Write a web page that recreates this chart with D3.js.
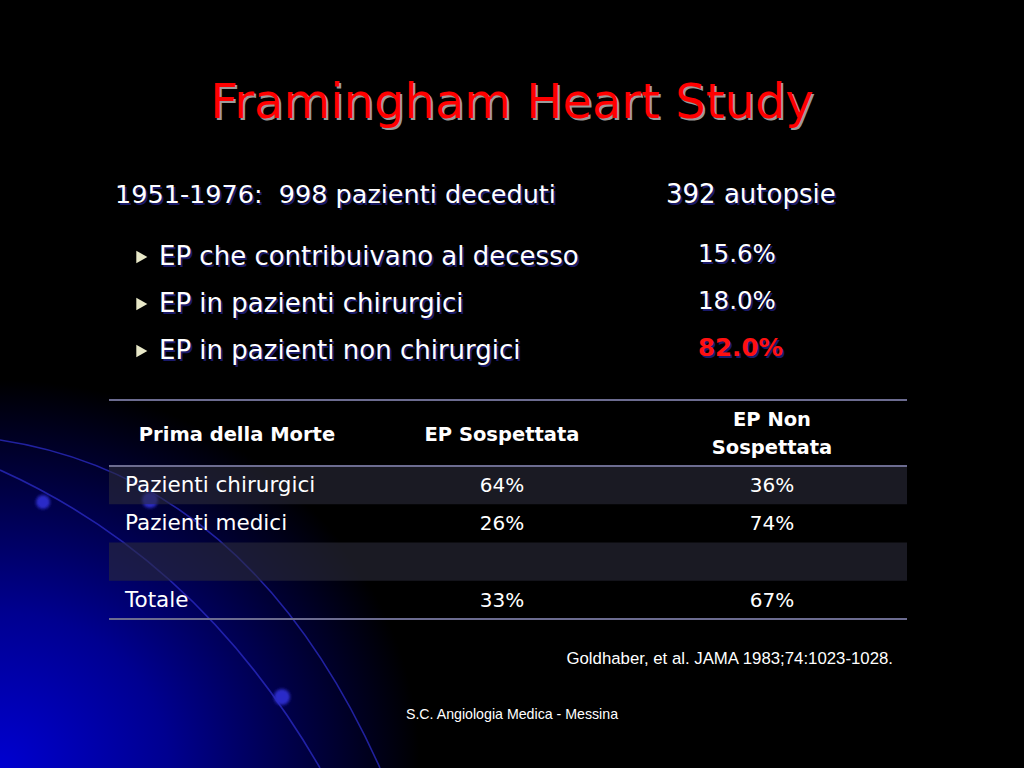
<!DOCTYPE html>
<html>
<head>
<meta charset="utf-8">
<script src="https://cdn.jsdelivr.net/npm/d3@7"></script>
<style>
  html, body { margin: 0; padding: 0; background: #000; }
  svg { display: block; }
  text { white-space: pre; }
</style>
</head>
<body>
<svg width="1024" height="768"></svg>
<script>
// slide content
const title = 'Framingham Heart Study';
const introLeft = '1951-1976:  998 pazienti deceduti';
const introRight = '392 autopsie';
const bullets = ['EP che contribuivano al decesso', 'EP in pazienti chirurgici', 'EP in pazienti non chirurgici'];
const bulletValues = ['15.6%', '18.0%', '82.0%'];
const highlight = [false, false, true];

const headers = [['Prima della Morte'], ['EP Sospettata'], ['EP Non', 'Sospettata']];
const rowLabels = ['Pazienti chirurgici', 'Pazienti medici', '', 'Totale'];
const suspected = ['64%', '26%', '', '33%'];
const notSuspected = ['36%', '74%', '', '67%'];

const citation = 'Goldhaber, et al. JAMA 1983;74:1023-1028.';
const footer = 'S.C. Angiologia Medica - Messina';

(function (d3) {
    const svg = d3.select('svg');
    const width = +svg.attr('width');
    const height = +svg.attr('height');
    const font = '"DejaVu Sans", sans-serif';

    // background
    const defs = svg.append('defs');
    const glow = defs.append('radialGradient')
        .attr('id', 'glow')
        .attr('cx', 0).attr('cy', 1).attr('r', 1)
        .attr('gradientUnits', 'objectBoundingBox');
    glow.append('stop').attr('offset', '0%').attr('stop-color', '#0000d0');
    glow.append('stop').attr('offset', '40%').attr('stop-color', '#000090');
    glow.append('stop').attr('offset', '100%').attr('stop-color', '#000000');

    const blur = defs.append('filter').attr('id', 'soft');
    blur.append('feGaussianBlur').attr('stdDeviation', 1.5);

    svg.append('rect').attr('width', width).attr('height', height).attr('fill', '#000');
    svg.append('rect')
        .attr('x', 0).attr('y', 380)
        .attr('width', 420).attr('height', 388)
        .attr('fill', 'url(#glow)');

    const arcs = svg.append('g')
        .attr('fill', 'none').attr('stroke', '#2c2cc8')
        .attr('stroke-width', 1.6).attr('opacity', 0.75);
    arcs.append('path').attr('d', 'M0,440 Q250,478 380,768');
    arcs.append('path').attr('d', 'M0,470 Q200,560 320,768');
    const dots = svg.append('g').attr('fill', '#2a2ac8').attr('filter', 'url(#soft)');
    dots.append('circle').attr('cx', 43).attr('cy', 502).attr('r', 7);
    dots.append('circle').attr('cx', 150).attr('cy', 500).attr('r', 8);
    dots.append('circle').attr('cx', 282).attr('cy', 697).attr('r', 8);

    // helper: text with drop shadow
    function shadowText(g, x, y, txt, opts) {
        const o = Object.assign({ size: 24, fill: '#fff', shadow: '#1a1a6a', anchor: 'start', weight: 'normal', dx: 2, dy: 2 }, opts);
        g.append('text')
            .attr('x', x + o.dx).attr('y', y + o.dy)
            .attr('text-anchor', o.anchor)
            .attr('font-family', font).attr('font-size', o.size).attr('font-weight', o.weight)
            .attr('fill', o.shadow)
            .text(txt);
        g.append('text')
            .attr('x', x).attr('y', y)
            .attr('text-anchor', o.anchor)
            .attr('font-family', font).attr('font-size', o.size).attr('font-weight', o.weight)
            .attr('fill', o.fill)
            .text(txt);
    }

    // title
    shadowText(svg.append('g'), width / 2, 118, title,
        { size: 48, fill: '#ff0000', shadow: '#9a9a9a', anchor: 'middle' });

    // intro line
    const intro = svg.append('g');
    shadowText(intro, 115, 203, introLeft, { size: 25.5 });
    shadowText(intro, 666, 203, introRight, { size: 26 });

    // bullets
    const by = d3.scalePoint().domain(d3.range(bullets.length)).range([265, 359]);
    const bg = svg.append('g');
    bullets.forEach((b, i) => {
        bg.append('path')
            .attr('d', d3.symbol().type(d3.symbolTriangle).size(70)())
            .attr('transform', `translate(140, ${by(i) - 8}) rotate(90)`)
            .attr('fill', '#e8e8c8');
        shadowText(bg, 159, by(i), b, { size: 26 });
        shadowText(bg, 698, by(i) - 3, bulletValues[i], {
            size: 24.5,
            fill: highlight[i] ? '#ff1010' : '#fff',
            weight: highlight[i] ? 'bold' : 'normal'
        });
    });

    // table
    const tableLeft = 109, tableRight = 907;
    const colCenters = [237, 502, 772];
    const rowY = d3.scaleBand().domain(d3.range(rowLabels.length)).range([466, 619]);
    const tg = svg.append('g');

    tg.selectAll('rect.band')
        .data(rowLabels)
        .join('rect')
        .attr('class', 'band')
        .attr('x', tableLeft)
        .attr('y', (d, i) => rowY(i))
        .attr('width', tableRight - tableLeft)
        .attr('height', rowY.bandwidth())
        .attr('fill', (d, i) => i % 2 === 0 ? 'rgba(44,44,58,0.6)' : 'none');

    // header
    headers.forEach((lines, c) => {
        lines.forEach((ln, k) => {
            const y = lines.length === 1 ? 441 : 426 + k * 28;
            tg.append('text')
                .attr('x', colCenters[c]).attr('y', y)
                .attr('text-anchor', 'middle')
                .attr('font-family', font).attr('font-size', 19.5).attr('font-weight', 'bold')
                .attr('fill', '#fff')
                .text(ln);
        });
    });

    const cell = (x, y, txt, anchor, size) => tg.append('text')
        .attr('x', x).attr('y', y)
        .attr('text-anchor', anchor)
        .attr('font-family', font).attr('font-size', size)
        .attr('fill', '#fff')
        .text(txt);

    rowLabels.forEach((lab, i) => {
        const y = rowY(i) + rowY.bandwidth() / 2 + 7;
        cell(125, y, lab, 'start', 21.5);
        cell(colCenters[1], y, suspected[i], 'middle', 20);
        cell(colCenters[2], y, notSuspected[i], 'middle', 20);
    });

    tg.selectAll('line.rule')
        .data([400, 466, 619])
        .join('line')
        .attr('class', 'rule')
        .attr('x1', tableLeft).attr('x2', tableRight)
        .attr('y1', d => d).attr('y2', d => d)
        .attr('stroke', '#6c6c90').attr('stroke-width', 2);

    // citation and footer
    svg.append('text')
        .attr('x', 893).attr('y', 664)
        .attr('text-anchor', 'end')
        .attr('font-family', '"Liberation Sans", Arial, sans-serif').attr('font-size', 16.8)
        .attr('fill', '#fff')
        .text(citation);
    svg.append('text')
        .attr('x', 512).attr('y', 719)
        .attr('text-anchor', 'middle')
        .attr('font-family', '"Liberation Sans", Arial, sans-serif').attr('font-size', 14.2)
        .attr('fill', '#fff')
        .text(footer);
}(d3));
</script>
</body>
</html>
